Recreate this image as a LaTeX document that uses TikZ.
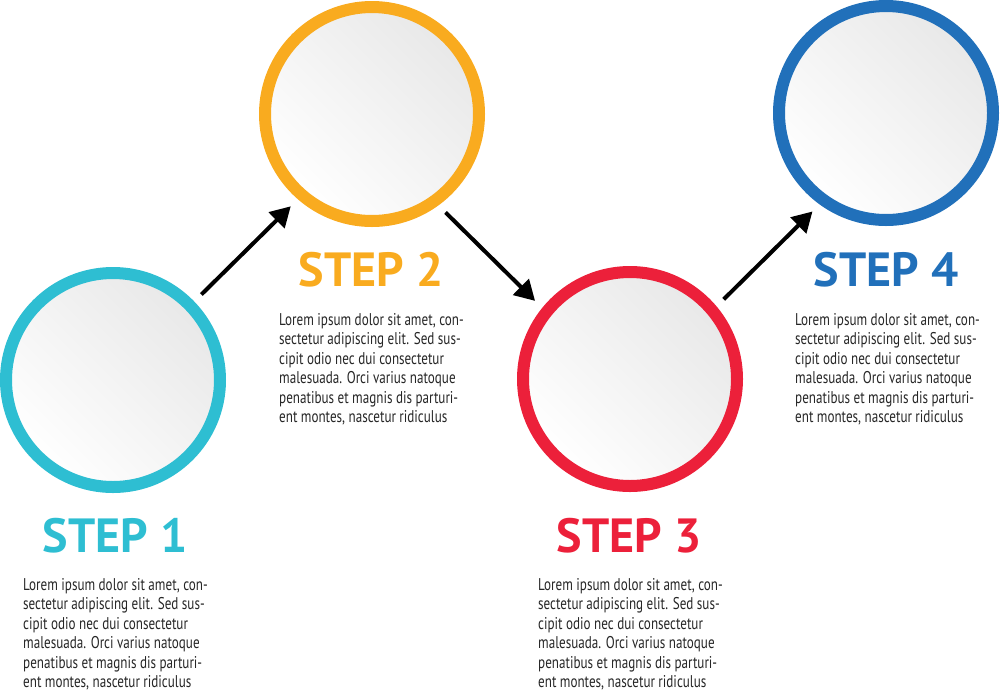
\documentclass[tikz,border=0pt]{standalone}
\usepackage{fontspec}
\setmainfont{PT Sans}[FakeStretch=0.77]
\newfontfamily\stepfont{PT Sans}[FakeStretch=1.0]
\usetikzlibrary{arrows.meta}
\definecolor{stepcyan}{RGB}{46,190,210}
\definecolor{steporange}{RGB}{249,171,31}
\definecolor{stepred}{RGB}{236,32,58}
\definecolor{stepblue}{RGB}{33,112,186}
\newcommand{\loremtext}{Lorem ipsum dolor sit amet, con-\\sectetur adipiscing elit. Sed sus-\\cipit odio nec dui consectetur\\malesuada. Orci varius natoque\\penatibus et magnis dis parturi-\\ent montes, nascetur ridiculus}
\begin{document}
\begin{tikzpicture}[x=1pt,y=-1pt,
	ring/.style={circle,draw=#1,line width=12pt,minimum size=214pt,inner sep=0pt,
		top color=black!9,bottom color=white,shading angle=-45},
	steplabel/.style={text=#1,anchor=base,inner sep=0pt,font=\stepfont\bfseries\fontsize{48}{50}\selectfont},
	bodytext/.style={anchor=north west,inner sep=0pt,align=left,text=black!85,font=\fontsize{17}{19.5}\selectfont},
	arrowline/.style={-{Triangle[length=20pt,width=22pt]},line width=4pt,shorten <=10pt,shorten >=10pt}]
		\useasboundingbox (0,0) rectangle (1000,694);
		% circles
		\node[ring=stepcyan]   (c1) at (113,380) {};
		\node[ring=steporange] (c2) at (372,114) {};
		\node[ring=stepred]    (c3) at (630,379) {};
		\node[ring=stepblue]   (c4) at (886,113) {};
		% arrows
		\draw[arrowline] (c1.44) -- (c2.-131);
		\draw[arrowline] (c2.-54) -- (c3.141);
		\draw[arrowline] (c3.40) -- (c4.-126);
		% labels
		\node[steplabel=stepcyan]   (s1) at (115,552) {STEP 1};
		\node[steplabel=steporange] (s2) at (371,286) {STEP 2};
		\node[steplabel=stepred]    (s3) at (629,552) {STEP 3};
		\node[steplabel=stepblue]   (s4) at (886,286) {STEP 4};
		% texts
		\node[bodytext] (t1) at (23,578) {\loremtext};
		\node[bodytext] (t2) at (279,313) {\loremtext};
		\node[bodytext] (t3) at (538,578) {\loremtext};
		\node[bodytext] (t4) at (795,313) {\loremtext};
	\end{tikzpicture}
\end{document}
